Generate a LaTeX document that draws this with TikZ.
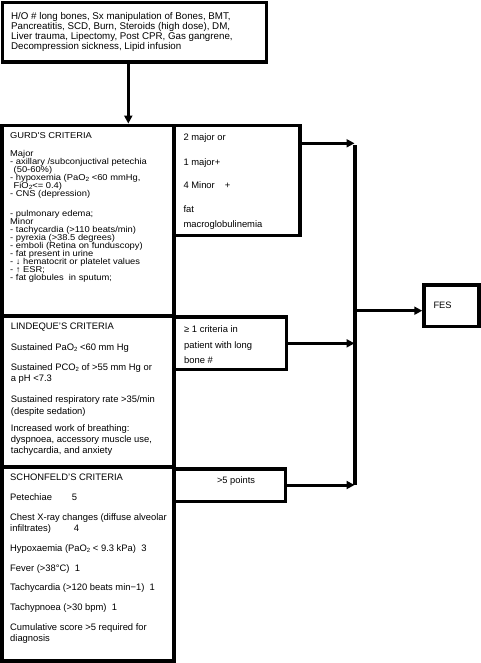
\documentclass[tikz,border=0pt]{standalone}
\usepackage{fontspec}
\setmainfont{Liberation Sans}
\newfontfamily\gurdfont[FakeStretch=1.1]{Liberation Sans}
\usetikzlibrary{arrows.meta,calc}
\tikzset{
  box/.style={draw,line width=3.5pt,inner sep=0pt},
  txt/.style={anchor=base west,inner sep=0pt,font=\fontsize{9.3}{11}\selectfont},
  arr/.style={line width=3pt,-{Triangle[length=8pt,width=8pt]}},
  bus/.style={line width=4pt}
}
\newcommand{\blk}[2]{\begin{minipage}[t]{#1}\lineskiplimit=-100pt\relax #2\end{minipage}}
\newcommand{\subtwo}{\raisebox{-1pt}{\fontsize{6}{6}\selectfont 2}}
\begin{document}
\begin{tikzpicture}[x=1pt,y=-1pt]
\useasboundingbox (0,0) rectangle (481,663);
% boxes
\node[box,minimum width=264.2pt,minimum height=59.5pt] (top) at (134.6,32.25) {};
\node[box,minimum width=172pt,minimum height=190.7pt] (gurd) at (88,220.65) {};
\node[box,minimum width=172pt,minimum height=151pt] (lind) at (88,391.5) {};
\node[box,minimum width=172pt,minimum height=194pt] (schon) at (88,564) {};
\node[box,minimum width=126pt,minimum height=110pt] (gs) at (237,180.3) {};
\node[box,minimum width=112.5pt,minimum height=52.7pt] (ls) at (230.25,343.35) {};
\node[box,minimum width=111.5pt,minimum height=32.3pt] (ss) at (229.75,485.15) {};
\node[box,minimum width=55pt,minimum height=41.7pt] (fes) at (451.5,305.85) {};
% texts
\node[txt] (toptxt) at (11,19.2) {\blk{255pt}{\fontsize{9.75}{10.2}\selectfont
H/O \# long bones, Sx manipulation of Bones, BMT,\\
Pancreatitis, SCD, Burn, Steroids (high dose), DM,\\
Liver trauma, Lipectomy, Post CPR, Gas gangrene,\\
Decompression sickness, Lipid infusion}};
\node[txt] (gurdtxt) at (10,138.3) {\blk{160pt}{\gurdfont\fontsize{8.5}{7.9}\selectfont
GURD'S CRITERIA\\[10.4pt]
Major\\
- axillary /subconjuctival petechia\\
\hspace*{3.5pt}(50-60\%)\\
- hypoxemia (PaO\subtwo{} <60 mmHg,\\
\hspace*{3.5pt}FiO\subtwo<= 0.4)\\
- CNS (depression)\\[12.8pt]
- pulmonary edema;\\
Minor\\
- tachycardia (>110 beats/min)\\
- pyrexia (>38.5 degrees)\\
- emboli (Retina on funduscopy)\\
- fat present in urine\\
- ↓ hematocrit or platelet values\\
- ↑ ESR;\\
- fat globules\ \ in sputum;}};
\node[txt] (gstxt) at (183.3,140.5) {\blk{110pt}{\fontsize{9.4}{11}\selectfont
2 major or\\[14.5pt]
1 major+\\[12pt]
4 Minor\hspace{10pt}+\\[13pt]
fat\\[4pt]
macroglobulinemia}};
\node[txt] (lindtxt) at (10.7,329.3) {\blk{160pt}{\fontsize{9.4}{11.2}\selectfont
LINDEQUE'S CRITERIA\\[9.5pt]
Sustained PaO\subtwo{} <60 mm Hg\\[8.8pt]
Sustained PCO\subtwo{} of >55 mm Hg or\\
a pH <7.3\\[10.5pt]
Sustained respiratory rate >35/min\\
(despite sedation)\\[5.8pt]
Increased work of breathing:\\
dyspnoea, accessory muscle use,\\
tachycardia, and anxiety}};
\node[txt] (lstxt) at (184,332.5) {\blk{100pt}{\fontsize{9.4}{15.5}\selectfont
≥ 1 criteria in\\
patient with long\\
bone \#}};
\node[txt] (schontxt) at (10,480.3) {\blk{160pt}{\fontsize{9.4}{11}\selectfont
SCHONFELD'S CRITERIA\\[9pt]
Petechiae\hspace{20pt}5\\[9pt]
Chest X-ray changes (diffuse alveolar\\
infiltrates)\hspace{23pt}4\\[9pt]
Hypoxaemia (PaO\subtwo{} < 9.3 kPa)\ \ 3\\[9pt]
Fever (>38°C)\ \ 1\\[8pt]
Tachycardia (>120 beats min−1)\ \ 1\\[9pt]
Tachypnoea (>30 bpm)\ \ 1\\[9pt]
Cumulative score >5 required for\\
diagnosis}};
\node[txt,anchor=base] (sstxt) at (236,483) {>5 points};
\node[txt] (festxt) at (433.3,308.3) {FES};
% connectors
\coordinate (busTop) at (354.5,143.3);
\coordinate (busBot) at (354.5,485);
\draw[bus] ([yshift=-2pt]busTop) -- (busBot);
\draw[arr] ([xshift=-6.3pt]top.south) -- ([xshift=-6.3pt]top.south |- gurd.north);
\draw[arr] (gs.east |- busTop) -- (busTop);
\draw[arr] (ls.east) -- (ls.east -| busTop);
\draw[arr] (ss.east |- busBot) -- (busBot);
\draw[arr] (busTop |- 0,310.7) -- (fes.west |- 0,310.7);
\end{tikzpicture}
\end{document}
